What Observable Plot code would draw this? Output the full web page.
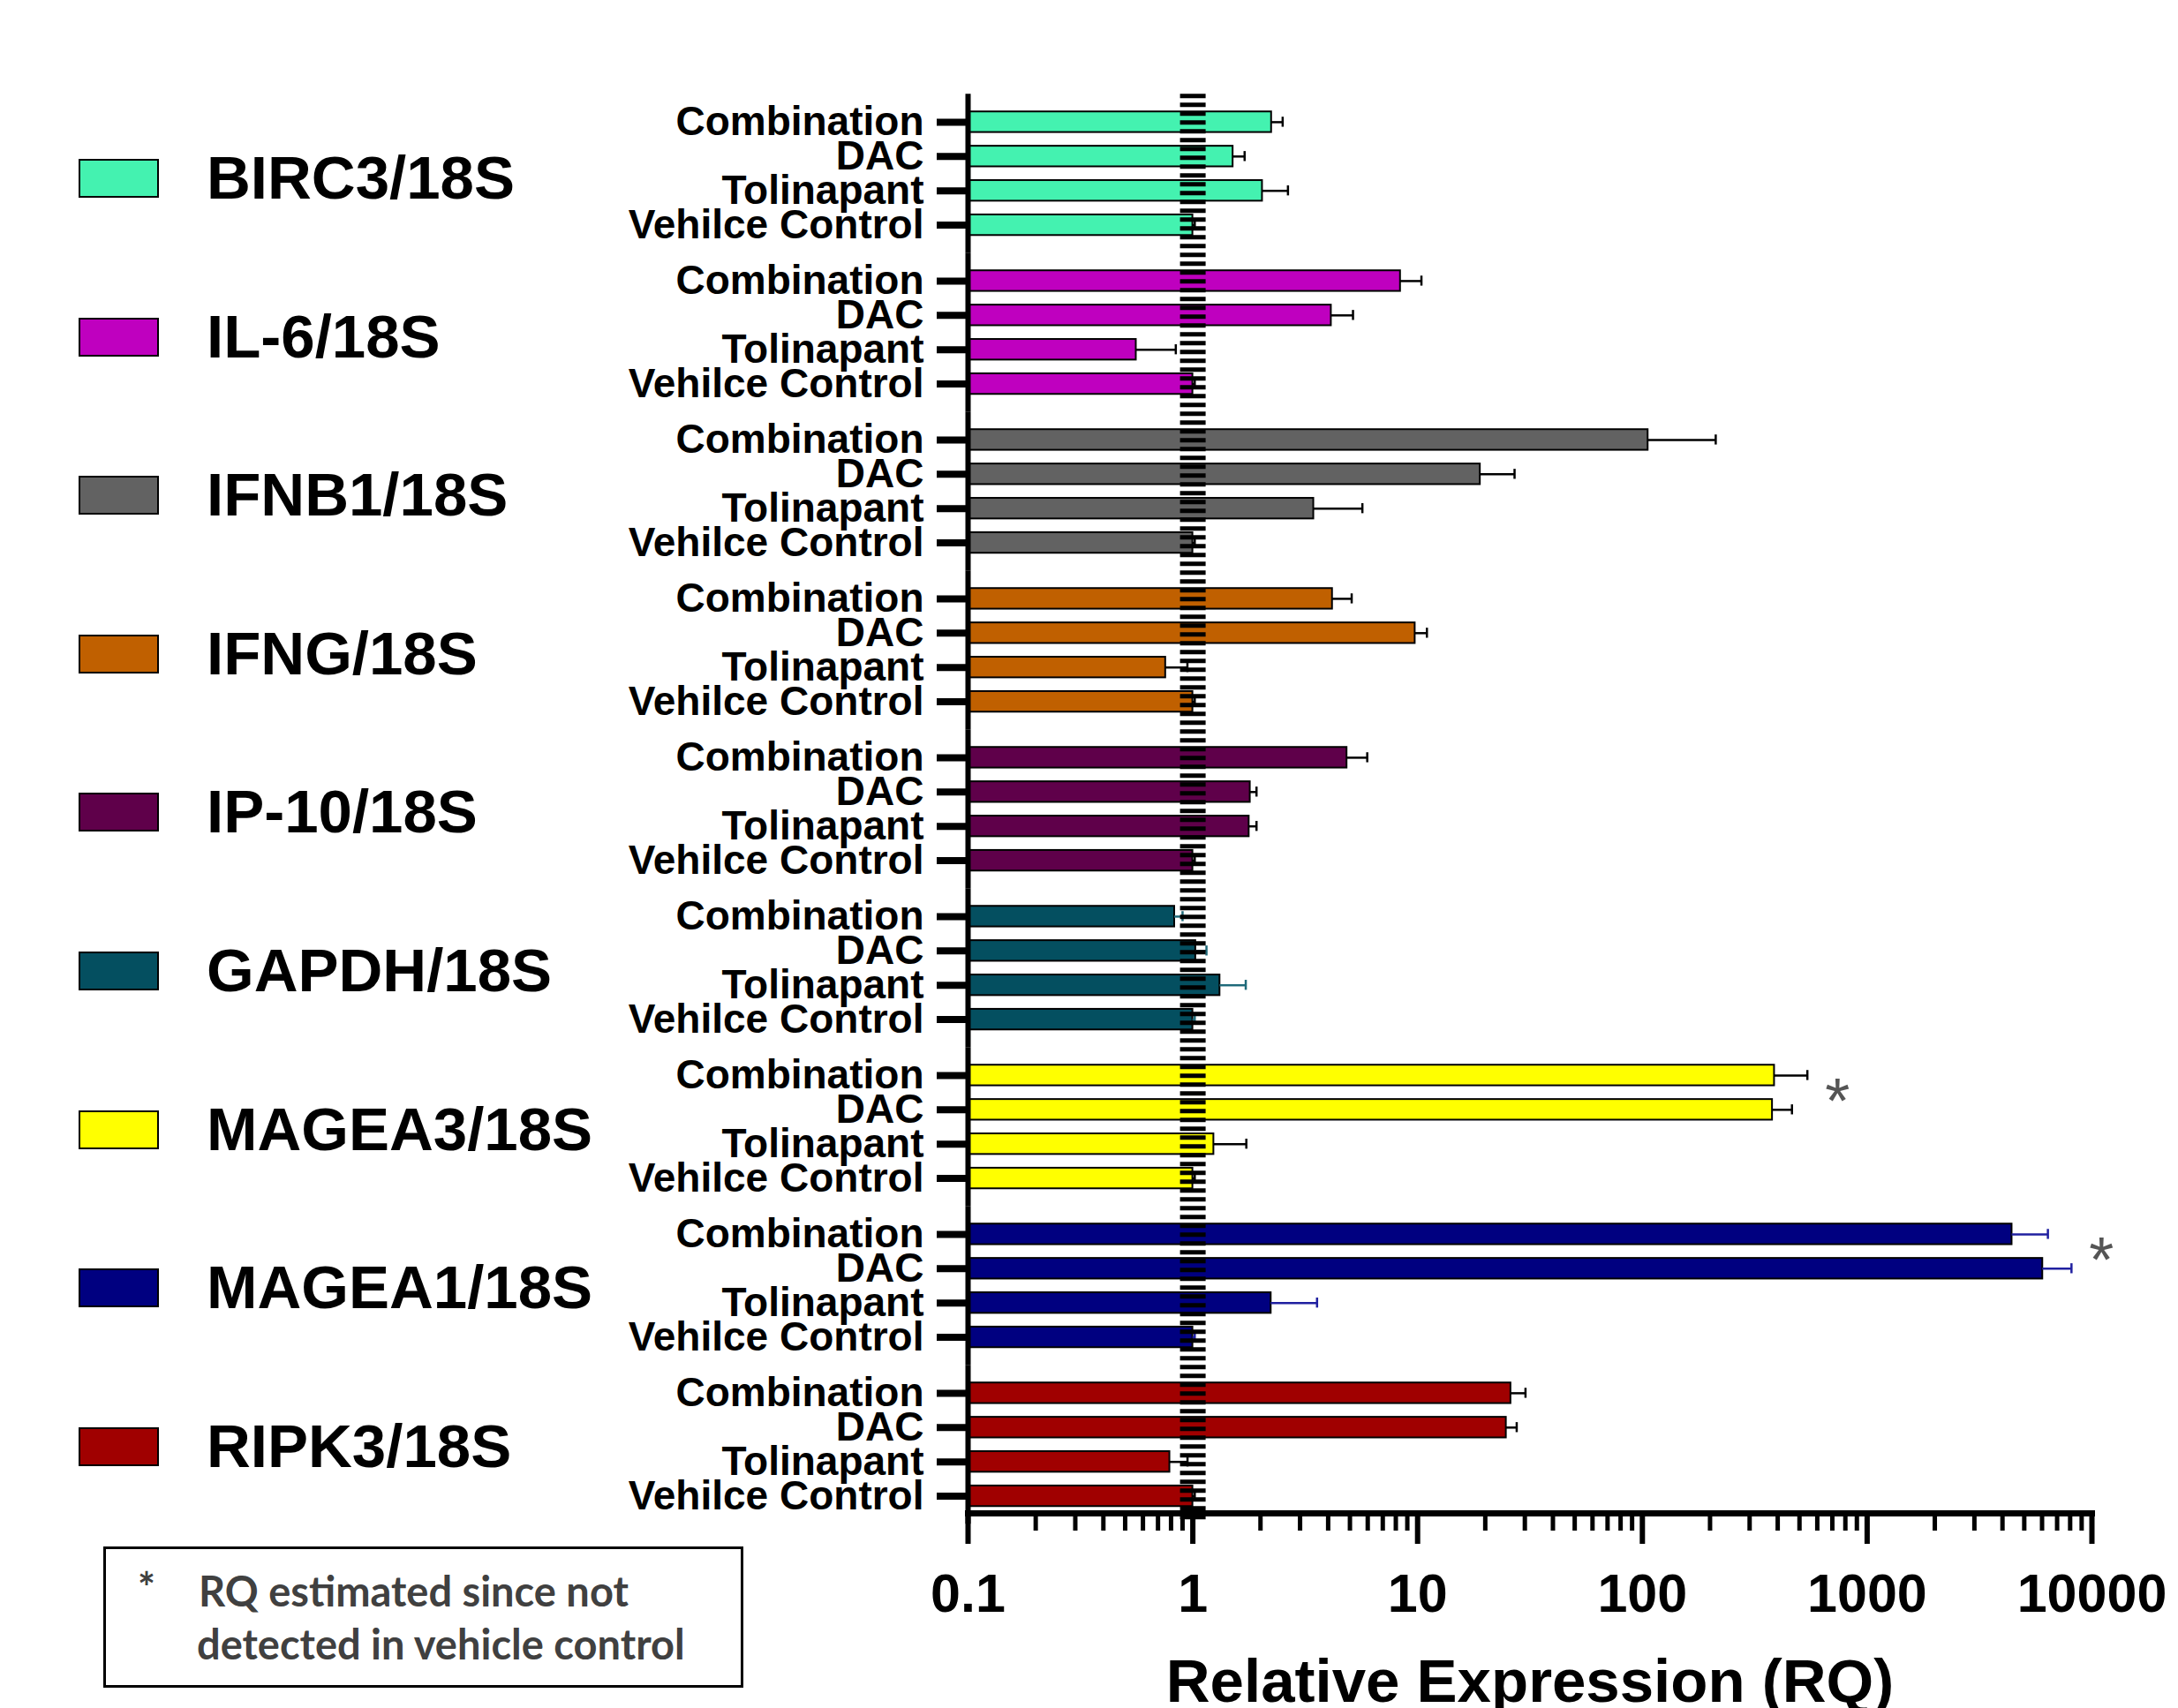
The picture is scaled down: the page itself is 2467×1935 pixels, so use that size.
<!DOCTYPE html>
<html>
<head>
<meta charset="utf-8">
<script src="https://cdn.jsdelivr.net/npm/d3@7"></script>
<script src="https://cdn.jsdelivr.net/npm/@observablehq/plot@0.6"></script>
<style>
  html, body { margin: 0; padding: 0; background: #fff; }
  #wrap { position: relative; width: 2467px; height: 1935px; overflow: hidden; background: #fff; }
  #chart { position: absolute; left: 0; top: 0; }
  #chart svg { display: block; }
  .item { position: absolute; left: 89px; height: 44px; display: flex; align-items: center; }
  .sw { width: 91px; height: 44px; box-sizing: border-box; border: 2px solid #000; }
  .lab { position: absolute; left: 145px; white-space: nowrap; font-family: "Liberation Sans", Arial, sans-serif; font-weight: bold; font-size: 69px; line-height: 70px; color: #000; }
  #note { position: absolute; left: 117px; top: 1752px; width: 725px; height: 160px; box-sizing: border-box; border: 3px solid #000; background: #fff;
          font-family: Lato, "Open Sans", sans-serif; font-weight: bold; font-size: 47px; color: #404040; }
  #note span { position: absolute; white-space: nowrap; line-height: 1; }
</style>
</head>
<body>
<div id="wrap">
  <div id="chart"></div>
  <div id="legend"></div>
  <div id="note"></div>
</div>
<script>
// ---- data ----
const genes = ["BIRC3/18S", "IL-6/18S", "IFNB1/18S", "IFNG/18S", "IP-10/18S", "GAPDH/18S", "MAGEA3/18S", "MAGEA1/18S", "RIPK3/18S"];
const treatments = ["Combination", "DAC", "Tolinapant", "Vehilce Control"];
const fillColors = ["#44F2B0", "#BF00BF", "#626262", "#C06000", "#5F004A", "#044F60", "#FFFF00", "#000080", "#A00000"];
const errorColors = ["#000", "#000", "#000", "#000", "#000", "#1F6A7A", "#000", "#2020A0", "#000"];

const rqCombination = [2.24, 8.39, 106, 4.18, 4.85, 0.83, 387, 4410, 26.0];
const rqDAC         = [1.51, 4.13, 19.0, 9.75, 1.80, 1.03, 379, 6040, 24.8];
const rqTolinapant  = [2.04, 0.56, 3.45, 0.757, 1.78, 1.32, 1.24, 2.23, 0.79];
const rqVehicle     = [1, 1, 1, 1, 1, 1, 1, 1, 1];

const upperCombination = [2.51, 10.4, 212, 5.09, 5.97, 0.90, 542, 6370, 30.2];
const upperDAC         = [1.70, 5.16, 27.0, 11.0, 1.92, 1.15, 463, 8110, 27.6];
const upperTolinapant  = [2.65, 0.84, 5.68, 0.946, 1.92, 1.72, 1.73, 3.57, 0.947];
const upperVehicle     = [1.02, 1.02, 1.02, 1.02, 1.02, 1.02, 1.02, 1.02, 1.02];

const estimatedGenes = ["MAGEA3/18S", "MAGEA1/18S"];
const xTicks = [0.1, 1, 10, 100, 1000, 10000];
const axisTitle = "Relative Expression (RQ)";
const noteStar = "*";
const noteLines = ["RQ estimated since not", "detected in vehicle control"];

// ---- table ----
const rqByTreatment = [rqCombination, rqDAC, rqTolinapant, rqVehicle];
const upperByTreatment = [upperCombination, upperDAC, upperTolinapant, upperVehicle];
const rows = genes.flatMap((g, i) => treatments.map((t, j) => ({
  gene: g, treatment: t,
  rq: rqByTreatment[j][i], upper: upperByTreatment[j][i],
  fill: fillColors[i], err: errorColors[i],
  starX: Math.max(upperCombination[i], upperDAC[i])
})));
const minorTicks = d3.range(-1, 4).flatMap(e => d3.range(2, 10).map(m => m * Math.pow(10, e)));

const FONT = "'Liberation Sans', Arial, Helvetica, sans-serif";

const chart = Plot.plot({
  width: 2467,
  height: 1935,
  marginLeft: 1096,
  marginRight: 98,
  marginTop: 114.5,
  marginBottom: 217,
  style: { fontFamily: FONT, background: "transparent", color: "#000", overflow: "visible" },
  x: { type: "log", domain: [0.1, 10000] },
  y: { domain: treatments, paddingInner: 0.4, paddingOuter: 0.2, round: false, label: null },
  fy: { domain: genes, paddingInner: 0.1356, paddingOuter: 0.022, round: false, axis: null, label: null },
  color: { type: "identity" },
  facet: { data: rows, y: "gene" },
  marks: [
    Plot.barX(rows, { x1: 0.1, x2: "rq", y: "treatment", fill: "fill", stroke: "#000", strokeWidth: 2 }),
    Plot.ruleY(rows, { y: "treatment", x1: "rq", x2: "upper", stroke: "err", strokeWidth: 2.5 }),
    Plot.tickX(rows, { x: "upper", y: "treatment", stroke: "err", strokeWidth: 2.5, insetTop: 6, insetBottom: 6 }),
    Plot.ruleX([1], { stroke: "#000", strokeWidth: 29, strokeDasharray: "5,5", insetTop: -12.2, insetBottom: -12.2 }),
    Plot.ruleX([0.1], { stroke: "#000", strokeWidth: 6, insetTop: -12.2, insetBottom: -12.2 }),
    Plot.frame({ anchor: "bottom", facetAnchor: "bottom", stroke: "#000", strokeWidth: 7 }),
    Plot.axisY({ tickSize: 35, tickPadding: 15, fontSize: 46, fontWeight: "bold", strokeWidth: 8, label: null }),
    Plot.axisX({ ticks: minorTicks, tickSize: 20, tickFormat: () => "", strokeWidth: 5, label: null }),
    Plot.axisX({ ticks: xTicks, tickSize: 35, tickPadding: 33, tickFormat: d => String(d), fontSize: 61, fontWeight: "bold", strokeWidth: 6, label: null }),
    Plot.text([axisTitle], { text: d => d, frameAnchor: "bottom", facetAnchor: "bottom", dy: 213, fontSize: 69, fontWeight: "bold", fill: "#000" }),
    Plot.text(rows, {
      filter: d => estimatedGenes.includes(d.gene) && d.treatment === "Combination",
      x: "starX", y: "treatment", text: () => "*", dx: 34, dy: 31, fontSize: 72, fill: "#555"
    })
  ]
});
document.getElementById("chart").appendChild(chart);

// ---- legend (HTML) ----
const legend = document.getElementById("legend");
genes.forEach((g, i) => {
  const item = document.createElement("div");
  item.className = "item";
  item.style.top = (202 + i * 179.6 - 22) + "px";
  const sw = document.createElement("div");
  sw.className = "sw";
  sw.style.background = fillColors[i];
  const lab = document.createElement("div");
  lab.className = "lab";
  lab.textContent = g;
  item.appendChild(sw);
  item.appendChild(lab);
  legend.appendChild(item);
});

// ---- note box ----
const note = document.getElementById("note");
const star = document.createElement("span");
star.textContent = noteStar;
star.style.left = "36px"; star.style.top = "20px";
note.appendChild(star);
noteLines.forEach((t, i) => {
  const s = document.createElement("span");
  s.textContent = t;
  s.style.left = (105 - i * 2) + "px";
  s.style.top = (24 + i * 60) + "px";
  note.appendChild(s);
});
</script>
</body>
</html>
